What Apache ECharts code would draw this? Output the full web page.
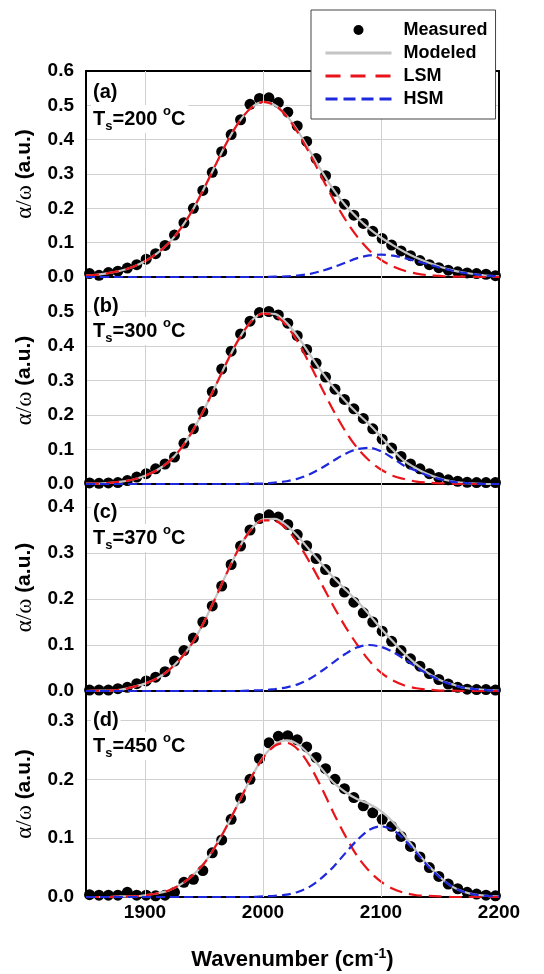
<!DOCTYPE html>
<html>
<head>
<meta charset="utf-8">
<script src="https://cdn.jsdelivr.net/npm/echarts@6/dist/echarts.min.js"></script>
<style>
html,body{margin:0;padding:0;background:#fff;}
#chart{width:544px;height:974px;}
</style>
</head>
<body>
<div id="chart"></div>
<script>
// ---------------- data ----------------
const curveWavenumbers = [1850,1860,1870,1880,1890,1900,1910,1920,1930,1940,1950,1960,1970,1980,1990,2000,2010,2020,2030,2040,2050,2060,2070,2080,2090,2100,2110,2120,2130,2140,2150,2160,2170,2180,2190,2200];
const measuredWavenumbers = [1853,1861,1869,1877,1885,1893,1901,1909,1917,1925,1933,1941,1949,1957,1965,1973,1981,1989,1997,2005,2013,2021,2029,2037,2045,2053,2061,2069,2077,2085,2093,2101,2109,2117,2125,2133,2141,2149,2157,2165,2173,2181,2189,2197];
const xTickValues = [1900, 2000, 2100, 2200];
const panelLabels = ['(a)', '(b)', '(c)', '(d)'];
const substrateTemps = ['200', '300', '370', '450'];
const yAxisMax = [0.6, 0.6, 0.45, 0.35];
const seriesNames = ['Measured', 'Modeled', 'LSM', 'HSM'];

// (a) Ts = 200 C
const measuredA = [0.010,0.005,0.013,0.017,0.026,0.036,0.052,0.068,0.092,0.122,0.158,0.200,0.252,0.305,0.365,0.415,0.458,0.503,0.520,0.522,0.508,0.480,0.440,0.395,0.345,0.295,0.250,0.212,0.180,0.156,0.133,0.112,0.093,0.076,0.062,0.048,0.036,0.027,0.020,0.015,0.012,0.010,0.008,0.004];
const modeledA = [0.004,0.007,0.012,0.019,0.030,0.046,0.068,0.098,0.140,0.193,0.258,0.328,0.396,0.453,0.493,0.510,0.501,0.470,0.423,0.365,0.307,0.253,0.208,0.172,0.141,0.115,0.093,0.073,0.056,0.042,0.030,0.020,0.013,0.008,0.004,0.002];
const lsmA = [0.004,0.007,0.012,0.019,0.030,0.046,0.068,0.098,0.140,0.193,0.258,0.328,0.396,0.453,0.493,0.510,0.500,0.468,0.418,0.356,0.289,0.224,0.166,0.117,0.078,0.050,0.031,0.018,0.010,0.005,0.003,0.001,0.001,0.000,0.000,0.000];
const hsmA = [0,0,0,0,0,0,0,0,0,0,0,0,0,0,0,0.000,0.001,0.002,0.005,0.009,0.018,0.029,0.042,0.055,0.063,0.065,0.062,0.055,0.046,0.037,0.027,0.019,0.012,0.008,0.004,0.002];

// (b) Ts = 300 C
const measuredB = [0.003,0.002,0.003,0.004,0.010,0.020,0.030,0.044,0.058,0.078,0.118,0.160,0.210,0.268,0.333,0.385,0.435,0.472,0.497,0.500,0.490,0.466,0.430,0.390,0.350,0.310,0.275,0.245,0.218,0.190,0.160,0.130,0.104,0.080,0.058,0.044,0.030,0.019,0.012,0.008,0.005,0.004,0.004,0.004];
const modeledB = [0.001,0.001,0.003,0.007,0.013,0.024,0.040,0.064,0.101,0.152,0.215,0.286,0.358,0.423,0.472,0.495,0.493,0.467,0.425,0.374,0.324,0.279,0.240,0.205,0.173,0.137,0.099,0.066,0.045,0.028,0.016,0.008,0.003,0.001,0.000,0.000];
const lsmB = [0.001,0.001,0.003,0.007,0.013,0.024,0.040,0.064,0.101,0.152,0.215,0.286,0.358,0.423,0.471,0.494,0.489,0.459,0.409,0.345,0.277,0.211,0.152,0.104,0.068,0.042,0.024,0.014,0.007,0.004,0.002,0.001,0.000,0.000,0.000,0.000];
const hsmB = [0,0,0,0,0,0,0,0,0,0,0,0,0,0,0.001,0.001,0.004,0.008,0.016,0.029,0.047,0.068,0.088,0.101,0.105,0.095,0.075,0.052,0.038,0.024,0.014,0.007,0.003,0.001,0.000,0.000];

// (c) Ts = 370 C
const measuredC = [0.002,0.002,0.002,0.005,0.008,0.016,0.022,0.030,0.042,0.065,0.088,0.115,0.150,0.185,0.228,0.275,0.315,0.350,0.375,0.383,0.378,0.362,0.340,0.316,0.288,0.264,0.237,0.215,0.193,0.170,0.150,0.130,0.108,0.088,0.070,0.054,0.038,0.025,0.015,0.008,0.004,0.003,0.003,0.002];
const modeledC = [0.000,0.001,0.001,0.003,0.009,0.016,0.027,0.045,0.070,0.104,0.150,0.204,0.260,0.312,0.352,0.373,0.374,0.360,0.335,0.305,0.275,0.246,0.220,0.195,0.166,0.136,0.108,0.081,0.058,0.039,0.024,0.015,0.007,0.004,0.002,0.001];
const lsmC = [0.000,0.001,0.001,0.003,0.009,0.016,0.027,0.045,0.070,0.104,0.150,0.204,0.260,0.312,0.351,0.371,0.370,0.352,0.320,0.278,0.231,0.183,0.139,0.100,0.066,0.040,0.023,0.012,0.006,0.003,0.001,0.001,0.000,0.000,0.000,0.000];
const hsmC = [0,0,0,0,0,0,0,0,0,0,0,0,0,0.000,0.001,0.002,0.004,0.008,0.015,0.027,0.044,0.063,0.081,0.095,0.100,0.096,0.085,0.069,0.052,0.036,0.023,0.014,0.007,0.004,0.002,0.001];

// (d) Ts = 450 C
const measuredD = [0.004,0.003,0.003,0.003,0.008,0.003,0.003,0.002,0.003,0.008,0.025,0.030,0.045,0.075,0.097,0.132,0.168,0.200,0.235,0.262,0.273,0.274,0.267,0.255,0.237,0.218,0.200,0.184,0.169,0.155,0.143,0.132,0.120,0.103,0.086,0.068,0.050,0.035,0.022,0.014,0.008,0.005,0.003,0.002];
const modeledD = [0.000,0.000,0.000,0.001,0.001,0.003,0.006,0.011,0.021,0.036,0.057,0.087,0.123,0.163,0.203,0.237,0.259,0.266,0.259,0.240,0.217,0.194,0.178,0.166,0.158,0.146,0.128,0.104,0.078,0.054,0.034,0.018,0.009,0.004,0.002,0.001];
const lsmD = [0.000,0.000,0.000,0.001,0.001,0.003,0.006,0.011,0.021,0.036,0.057,0.087,0.123,0.163,0.203,0.236,0.257,0.262,0.250,0.222,0.184,0.142,0.103,0.069,0.044,0.026,0.014,0.007,0.003,0.002,0.001,0.000,0.000,0.000,0.000,0.000];
const hsmD = [0,0,0,0,0,0,0,0,0,0,0,0,0,0,0.000,0.001,0.002,0.004,0.009,0.018,0.033,0.052,0.075,0.097,0.114,0.120,0.114,0.097,0.075,0.052,0.033,0.018,0.009,0.004,0.002,0.001];

// ---------------- layout / style ----------------
const panels = [
  {measured: measuredA, modeled: modeledA, lsm: lsmA, hsm: hsmA},
  {measured: measuredB, modeled: modeledB, lsm: lsmB, hsm: hsmB},
  {measured: measuredC, modeled: modeledC, lsm: lsmC, hsm: hsmC},
  {measured: measuredD, modeled: modeledD, lsm: lsmD, hsm: hsmD}
];
const gridTops = [71, 277, 484, 691];
const gridHeights = [206, 207, 207, 207];
const labelTops = [81, 295, 501, 709];
const tsTops = [105, 317, 524, 732];

const SANS = '"Liberation Sans", Arial, sans-serif';
const SERIF = '"Liberation Serif", "Times New Roman", serif';
const GRIDCOL = '#d0d0d0';
const RED = '#e8141a', BLUE = '#1e28dc', GRAY = '#c4c4c4';

const pair = (xs, ys) => xs.map((x, i) => [x, ys[i]]);

const grids = [], xAxes = [], yAxes = [], series = [], graphics = [];

panels.forEach((p, i) => {
  grids.push({left: 86, width: 413, top: gridTops[i], height: gridHeights[i],
    show: true, borderColor: '#000', borderWidth: 2, backgroundColor: 'transparent', z: 3});

  const isBottom = i === panels.length - 1;
  xAxes.push({
    gridIndex: i, type: 'value', min: 1850, max: 2200, interval: 50,
    axisLine: {show: false}, axisTick: {show: false}, splitLine: {show: false},
    axisLabel: {show: isBottom, margin: 6, color: '#000', fontFamily: SANS, fontWeight: 'bold', fontSize: 19,
      formatter: v => (xTickValues.indexOf(v) >= 0 ? String(v) : '')},
    name: isBottom ? 'Wavenumber (cm{sup|-1})' : '',
    nameLocation: 'middle', nameGap: 50,
    nameTextStyle: {color: '#000', fontFamily: SANS, fontWeight: 'bold', fontSize: 22, lineHeight: 26,
      rich: {sup: {fontFamily: SANS, fontWeight: 'bold', fontSize: 14, verticalAlign: 'top', lineHeight: 14, color: '#000'}}}
  });

  yAxes.push({
    gridIndex: i, type: 'value', min: 0, max: yAxisMax[i], interval: 0.1,
    axisLine: {show: false}, axisTick: {show: false},
    splitLine: {show: true, lineStyle: {color: GRIDCOL, width: 1}},
    axisLabel: {margin: 12, color: '#000', fontFamily: SANS, fontWeight: 'bold', fontSize: 19,
      showMaxLabel: i === 0, showMinLabel: true,
      formatter: v => v.toFixed(1)},
    name: '{g|α/ω} {b|(a.u.)}', nameLocation: 'middle', nameGap: 50, nameRotate: 90,
    nameTextStyle: {color: '#000', fontFamily: SANS, fontWeight: 'bold', fontSize: 21,
      rich: {
        g: {fontFamily: SERIF, fontWeight: 'normal', fontSize: 23, color: '#000'},
        b: {fontFamily: SANS, fontWeight: 'bold', fontSize: 21, color: '#000'}
      }}
  });

  // vertical grid lines at the labelled wavenumbers
  series.push({
    name: 'gridlines' + i, type: 'line', xAxisIndex: i, yAxisIndex: i, data: [], z: 1, silent: true,
    markLine: {silent: true, symbol: ['none', 'none'], label: {show: false}, animation: false,
      lineStyle: {color: GRIDCOL, width: 1, type: 'solid'},
      data: xTickValues.filter(v => v < 2200).map(v => ({xAxis: v}))}
  });
  series.push({
    name: seriesNames[0], type: 'scatter', xAxisIndex: i, yAxisIndex: i, z: 2,
    symbol: 'circle', symbolSize: 11, itemStyle: {color: '#000', opacity: 1},
    data: pair(measuredWavenumbers, p.measured)
  });
  series.push({
    name: seriesNames[1], type: 'line', xAxisIndex: i, yAxisIndex: i, z: 3, smooth: 0.3,
    symbol: 'none', lineStyle: {color: GRAY, width: 2.2}, itemStyle: {color: GRAY},
    data: pair(curveWavenumbers, p.modeled)
  });
  series.push({
    name: seriesNames[2], type: 'line', xAxisIndex: i, yAxisIndex: i, z: 4, smooth: 0.3,
    symbol: 'none', lineStyle: {color: RED, width: 2.2, type: [13, 7]}, itemStyle: {color: RED},
    data: pair(curveWavenumbers, p.lsm)
  });
  series.push({
    name: seriesNames[3], type: 'line', xAxisIndex: i, yAxisIndex: i, z: 5, smooth: 0.3,
    symbol: 'none', lineStyle: {color: BLUE, width: 2.2, type: [9, 5]}, itemStyle: {color: BLUE},
    data: pair(curveWavenumbers, p.hsm)
  });

  graphics.push({
    type: 'text', left: 91, top: labelTops[i], z: 20,
    style: {text: panelLabels[i], fill: '#000', font: 'bold 20px ' + SANS, backgroundColor: '#fff', padding: [1, 2, 1, 2]}
  });
  graphics.push({
    type: 'text', left: 91, top: tsTops[i], z: 20,
    style: {
      text: '{t|T}{s|s}{t|=' + substrateTemps[i] + ' }{o|o}{t|C}',
      fill: '#000', font: 'bold 20px ' + SANS, backgroundColor: '#fff', padding: [0, 3, 0, 2],
      rich: {
        t: {fontFamily: SANS, fontWeight: 'bold', fontSize: 20, lineHeight: 28, verticalAlign: 'middle', fill: '#000'},
        s: {fontFamily: SANS, fontWeight: 'bold', fontSize: 13, lineHeight: 13, verticalAlign: 'bottom', fill: '#000'},
        o: {fontFamily: SANS, fontWeight: 'bold', fontSize: 13, lineHeight: 13, verticalAlign: 'top', fill: '#000'}
      }
    }
  });
});

const option = {
  animation: false,
  backgroundColor: '#fff',
  legend: {
    orient: 'vertical', left: 311, top: 10, z: 30,
    data: [
      {name: 'Measured', icon: 'circle', itemStyle: {opacity: 1}},
      {name: 'Modeled', itemStyle: {opacity: 0}, lineStyle: {width: 3, color: GRAY}},
      {name: 'LSM', itemStyle: {opacity: 0}, lineStyle: {width: 3, color: RED, type: [15, 10]}},
      {name: 'HSM', itemStyle: {opacity: 0}, lineStyle: {width: 3, color: BLUE, type: [12, 6]}}
    ],
    itemWidth: 66, itemHeight: 10, itemGap: 5,
    padding: [11, 8, 11, 13],
    backgroundColor: '#fff', borderColor: '#444', borderWidth: 1,
    selectedMode: false,
    textStyle: {fontFamily: SANS, fontWeight: 'bold', fontSize: 18, color: '#000', padding: [0, 0, 0, 7]}
  },
  grid: grids,
  xAxis: xAxes,
  yAxis: yAxes,
  series: series,
  graphic: graphics
};

const chart = echarts.init(document.getElementById('chart'), null, {renderer: 'canvas'});
chart.setOption(option);
</script>
</body>
</html>
